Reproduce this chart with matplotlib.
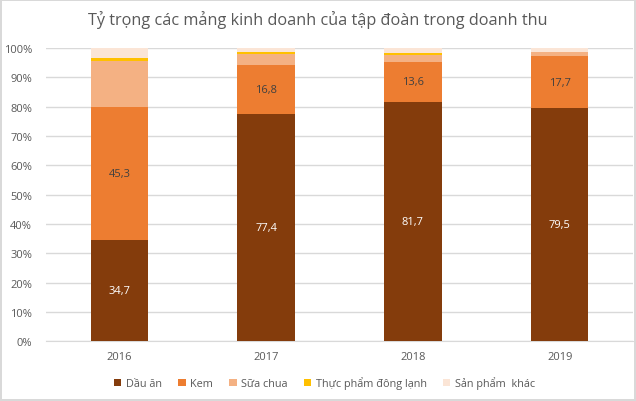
import matplotlib
matplotlib.use("Agg")
import matplotlib.pyplot as plt
import numpy as np
from matplotlib.ticker import PercentFormatter

years = ["2016", "2017", "2018", "2019"]
dau_an = [34.7, 77.4, 81.7, 79.5]
kem = [45.3, 16.8, 13.6, 17.7]
sua_chua = [15.6, 3.8, 2.3, 1.6]
dong_lanh = [1.0, 0.6, 0.8, 0.0]
khac = [3.4, 1.4, 1.6, 1.2]

series_names = ["Dầu ăn", "Kem", "Sữa chua", "Thực phẩm đông lạnh", "Sản phẩm  khác"]
series_vals = [dau_an, kem, sua_chua, dong_lanh, khac]
colors = ["#843C0C", "#ED7D31", "#F4B183", "#FFC000", "#FBE5D6"]

plt.rcParams['font.family'] = ['Open Sans', 'DejaVu Sans']
txt = "#595959"

fig = plt.figure(figsize=(6.36, 4.02), dpi=100)
fig.patch.set_edgecolor("#D9D9D9")
fig.patch.set_linewidth(1.5)
ax = fig.add_axes([46/636, (402-342.3)/402, (633-46)/636, (342.3-49)/402])

x = np.arange(len(years))
bottom = np.zeros(len(years))
handles = []
for name, vals, c in zip(series_names, series_vals, colors):
    v = np.array(vals, dtype=float)
    h = ax.bar(x, v, 0.393, bottom=bottom, color=c, label=name, zorder=3)
    handles.append(h)
    if name == "Dầu ăn":
        for xi, b, vi in zip(x, bottom, v):
            ax.text(xi, b + vi/2, f"{vi:.1f}".replace(".", ","), ha="center", va="center",
                    color="white", fontsize=8)
    elif name == "Kem":
        for xi, b, vi in zip(x, bottom, v):
            ax.text(xi, b + vi/2, f"{vi:.1f}".replace(".", ","), ha="center", va="center",
                    color="#404040", fontsize=8)
    bottom += v

ax.set_xlim(-0.5, len(years) - 0.5)
ax.set_ylim(0, 100)
ax.set_yticks(np.arange(0, 101, 10))
ax.yaxis.set_major_formatter(PercentFormatter(decimals=0))
ax.set_xticks(x)
ax.set_xticklabels(years)
ax.grid(axis="y", color="#D9D9D9", linewidth=1, zorder=0)
for s in ["top", "right", "left"]:
    ax.spines[s].set_visible(False)
ax.spines["bottom"].set_color("#D9D9D9")
ax.tick_params(axis="both", length=0, colors=txt, labelsize=8)
ax.tick_params(axis="x", pad=7)
ax.tick_params(axis="y", pad=10)

fig.text(0.5, 1 - 20/402, "Tỷ trọng các mảng kinh doanh của tập đoàn trong doanh thu",
         ha="center", va="center", fontsize=11.7, color=txt)

leg = fig.legend(handles=handles, labels=series_names, loc="center", ncol=5,
                 bbox_to_anchor=(0.51, 1 - 384/402), frameon=False, fontsize=7.8,
                 handlelength=0.7, handleheight=0.7, handletextpad=0.4, columnspacing=1.5)
for t in leg.get_texts():
    t.set_color(txt)

fig.savefig("out.png", dpi=100)
